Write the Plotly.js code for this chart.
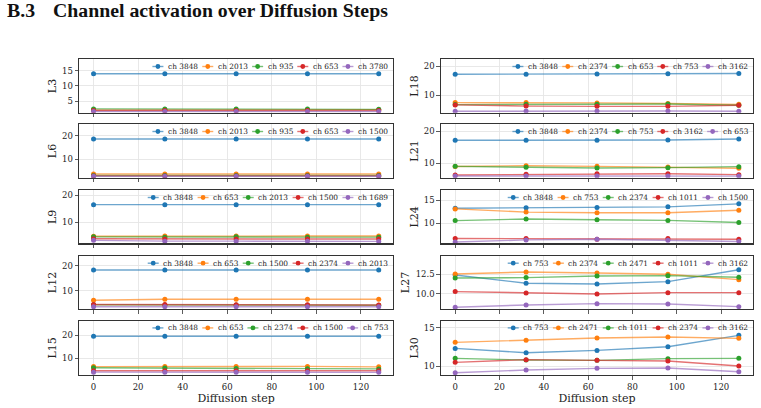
<!DOCTYPE html>
<html>
<head>
<meta charset="utf-8">
<script src="https://cdn.plot.ly/plotly-3.0.1.min.js"></script>
<style>
  html, body { margin: 0; padding: 0; background: #fff; }
  #chart { width: 761px; height: 408px; }
</style>
</head>
<body>
<div id="chart"></div>
<script>
// ---- data: activation of the top channels per layer across diffusion steps ----
const steps = [0, 32, 64, 96, 128];
const layers = ['L3', 'L6', 'L9', 'L12', 'L15', 'L18', 'L21', 'L24', 'L27', 'L30'];

const channelsL3 = ['ch 3848', 'ch 2013', 'ch 935', 'ch 653', 'ch 3780'];
const valuesL3 = [
  [14.0, 14.0, 14.0, 14.0, 14.0],
  [2.0, 2.0, 2.0, 2.0, 2.15],
  [2.4, 2.4, 2.4, 2.4, 2.25],
  [1.85, 1.85, 1.85, 1.85, 1.85],
  [1.55, 1.55, 1.55, 1.55, 1.55]
];

const channelsL6 = ['ch 3848', 'ch 2013', 'ch 935', 'ch 653', 'ch 1500'];
const valuesL6 = [
  [18.6, 18.6, 18.6, 18.6, 18.6],
  [3.8, 3.8, 3.8, 3.8, 3.8],
  [3.2, 3.2, 3.2, 3.2, 3.2],
  [3.0, 3.0, 3.0, 3.0, 3.0],
  [2.8, 2.8, 2.8, 2.8, 2.8]
];

const channelsL9 = ['ch 3848', 'ch 653', 'ch 2013', 'ch 1500', 'ch 1689'];
const valuesL9 = [
  [16.5, 16.5, 16.5, 16.5, 16.5],
  [4.7, 4.8, 4.8, 4.8, 4.8],
  [4.5, 4.4, 4.5, 4.4, 4.4],
  [3.8, 3.7, 3.7, 3.7, 3.7],
  [3.2, 2.9, 2.9, 2.9, 2.8]
];

const channelsL12 = ['ch 3848', 'ch 653', 'ch 1500', 'ch 2374', 'ch 2013'];
const valuesL12 = [
  [18.4, 18.4, 18.4, 18.4, 18.4],
  [6.1, 6.5, 6.5, 6.5, 6.5],
  [4.3, 4.2, 4.2, 4.1, 4.1],
  [4.4, 4.4, 4.3, 4.3, 4.2],
  [3.5, 3.5, 3.5, 3.5, 3.5]
];

const channelsL15 = ['ch 3848', 'ch 653', 'ch 2374', 'ch 1500', 'ch 753'];
const valuesL15 = [
  [19.6, 19.6, 19.6, 19.6, 19.6],
  [6.4, 6.5, 6.5, 6.5, 6.3],
  [5.9, 5.8, 5.6, 5.5, 5.4],
  [4.6, 4.6, 4.6, 4.6, 4.6],
  [4.0, 3.9, 3.9, 3.9, 3.9]
];

const channelsL18 = ['ch 3848', 'ch 2374', 'ch 653', 'ch 753', 'ch 3162'];
const valuesL18 = [
  [17.25, 17.25, 17.3, 17.4, 17.5],
  [7.5, 7.5, 7.4, 7.2, 6.9],
  [6.8, 6.9, 6.9, 7.0, 6.6],
  [6.7, 6.3, 6.2, 6.2, 6.6],
  [4.5, 4.6, 4.6, 4.6, 4.5]
];

const channelsL21 = ['ch 3848', 'ch 2374', 'ch 753', 'ch 3162', 'ch 653'];
const valuesL21 = [
  [17.2, 17.2, 17.2, 17.3, 17.6],
  [9.0, 9.25, 9.05, 8.85, 8.45],
  [9.05, 8.75, 8.55, 8.65, 8.95],
  [6.35, 6.55, 6.75, 6.75, 6.45],
  [6.05, 6.0, 6.0, 6.0, 6.0]
];

const channelsL24 = ['ch 3848', 'ch 753', 'ch 2374', 'ch 1011', 'ch 1500'];
const valuesL24 = [
  [13.3, 13.4, 13.45, 13.6, 14.25],
  [13.15, 12.45, 12.3, 12.3, 12.85],
  [10.6, 10.95, 10.8, 10.65, 10.2],
  [6.7, 6.7, 6.55, 6.7, 6.55],
  [5.95, 6.4, 6.55, 6.3, 6.05]
];

const channelsL27 = ['ch 753', 'ch 2374', 'ch 2471', 'ch 1011', 'ch 3162'];
const valuesL27 = [
  [12.42, 11.36, 11.27, 11.57, 13.08],
  [12.54, 12.8, 12.67, 12.5, 11.82],
  [12.03, 12.08, 12.29, 12.33, 12.12],
  [10.3, 10.13, 10.0, 10.17, 10.17],
  [8.31, 8.6, 8.77, 8.73, 8.39]
];

const channelsL30 = ['ch 753', 'ch 2471', 'ch 1011', 'ch 2374', 'ch 3162'];
const valuesL30 = [
  [12.3, 11.74, 12.04, 12.52, 14.0],
  [13.09, 13.35, 13.65, 13.78, 13.61],
  [11.0, 10.78, 10.74, 10.96, 11.0],
  [10.48, 10.83, 10.74, 10.65, 10.0],
  [9.13, 9.48, 9.7, 9.74, 9.26]
];

const channelSets = [channelsL3, channelsL6, channelsL9, channelsL12, channelsL15,
                     channelsL18, channelsL21, channelsL24, channelsL27, channelsL30];
const valueSets = [valuesL3, valuesL6, valuesL9, valuesL12, valuesL15,
                   valuesL18, valuesL21, valuesL24, valuesL27, valuesL30];

// ---- axis settings per panel ----
const yRanges = [[1.14, 18.75], [2.24, 24.8], [2.1, 21.85], [2.57, 24.05], [2.75, 26.4],
                 [4.02, 22.4], [5.5, 22.2], [5.66, 17.2], [8.09, 14.83], [8.83, 15.91]];
const yDticks = [5, 10, 10, 10, 10, 10, 10, 5, 2.5, 5];
const xRange = [-6.4, 134.4];
const xTicks = [0, 20, 40, 60, 80, 100, 120];

// ---- styling ----
const W = 761, H = 408;
const palette = ['#1f77b4', '#ff7f0e', '#2ca02c', '#d62728', '#9467bd'];
const lineAlpha = 0.65;
const serif = 'DejaVu Serif';
const rowTop = [59.3, 124.3, 190.3, 256, 320.7];
const rowBottom = [112.7, 177.7, 243.3, 309, 375];
const colLeft = [79.3, 441];
const colRight = [393, 753];

function rgba(hex, a) {
  const n = parseInt(hex.slice(1), 16);
  return `rgba(${(n >> 16) & 255},${(n >> 8) & 255},${n & 255},${a})`;
}

const traces = [];
const layout = {
  width: W, height: H,
  margin: {l: 0, r: 0, t: 0, b: 0},
  paper_bgcolor: '#fff',
  plot_bgcolor: '#fff',
  showlegend: false,
  font: {family: serif, color: '#222'},
  shapes: [],
  annotations: []
};

// canvas used to size legend labels
const measureCtx = document.createElement('canvas').getContext('2d');
const legendSize = 7.4;
measureCtx.font = legendSize + 'px "' + serif + '"';

layers.forEach((layer, i) => {
  const col = i < 5 ? 0 : 1;
  const row = i % 5;
  const n = i + 1;
  const xName = 'x' + n, yName = 'y' + n;
  const left = colLeft[col], right = colRight[col];
  const top = rowTop[row], bottom = rowBottom[row];

  channelSets[i].forEach((ch, k) => {
    traces.push({
      type: 'scatter', mode: 'lines+markers',
      x: steps, y: valueSets[i][k], name: ch,
      xaxis: xName, yaxis: yName,
      line: {color: rgba(palette[k], lineAlpha), width: 1.4},
      marker: {color: palette[k], size: 5},
      hoverinfo: 'x+y+name'
    });
  });

  const common = {
    showgrid: true, gridcolor: '#e6e6e6', gridwidth: 0.9,
    zeroline: false, showline: true, mirror: true,
    linecolor: '#333', linewidth: 1.2,
    ticks: 'outside', ticklen: 3.5, tickwidth: 0.8, tickcolor: '#333',
    tickfont: {family: serif, size: 8.5, color: '#222'}
  };

  layout['xaxis' + (n === 1 ? '' : n)] = Object.assign({}, common, {
    domain: [left / W, right / W],
    range: xRange, anchor: yName,
    tickmode: 'array', tickvals: xTicks,
    showticklabels: row === 4,
    title: row === 4 ? {text: 'Diffusion step', font: {family: serif, size: 11, color: '#222'}, standoff: 1} : {text: ''}
  });

  layout['yaxis' + (n === 1 ? '' : n)] = Object.assign({}, common, {
    domain: [1 - bottom / H, 1 - top / H],
    range: yRanges[i], anchor: xName,
    tick0: 0, dtick: yDticks[i],
    tickformat: yDticks[i] < 5 ? '.1f' : '',
    title: {text: layer, font: {family: serif, size: 11, color: '#222'}, standoff: 3}
  });

  // horizontal legend in the upper-right corner of each panel
  const handleLen = 11, handleGap = 3.5, colGap = 5.3, padRight = 6, markerR = 2.4;
  const widths = channelSets[i].map(ch => measureCtx.measureText(ch).width);
  const total = widths.reduce((s, w) => s + handleLen + handleGap + w, 0) + colGap * (widths.length - 1);
  let cx = right - padRight - total;
  const cy = top + 7.2;
  channelSets[i].forEach((ch, k) => {
    layout.shapes.push({
      type: 'line', xref: 'paper', yref: 'paper',
      x0: cx / W, x1: (cx + handleLen) / W, y0: 1 - cy / H, y1: 1 - cy / H,
      line: {color: rgba(palette[k], lineAlpha), width: 1.4}
    });
    const mx = cx + handleLen / 2;
    layout.shapes.push({
      type: 'circle', xref: 'paper', yref: 'paper',
      x0: (mx - markerR) / W, x1: (mx + markerR) / W,
      y0: 1 - (cy + markerR) / H, y1: 1 - (cy - markerR) / H,
      fillcolor: palette[k], line: {width: 0}
    });
    layout.annotations.push({
      xref: 'paper', yref: 'paper',
      x: (cx + handleLen + handleGap) / W, y: 1 - cy / H,
      xanchor: 'left', yanchor: 'middle', showarrow: false, borderpad: 0,
      text: ch, font: {family: serif, size: legendSize, color: '#222'}
    });
    cx += handleLen + handleGap + widths[k] + colGap;
  });
});

// section heading
const headFont = {family: 'Liberation Serif', size: 19.8, color: '#111'};
layout.annotations.push({
  xref: 'paper', yref: 'paper', x: 6 / W, y: 1 - 10 / H,
  xanchor: 'left', yanchor: 'middle', showarrow: false, borderpad: 0,
  text: '<b>B.3</b>', font: headFont
});
layout.annotations.push({
  xref: 'paper', yref: 'paper', x: 52 / W, y: 1 - 10 / H,
  xanchor: 'left', yanchor: 'middle', showarrow: false, borderpad: 0,
  text: '<b>Channel activation over Diffusion Steps</b>', font: headFont
});

Plotly.newPlot('chart', traces, layout, {staticPlot: true, displayModeBar: false});
</script>
</body>
</html>
